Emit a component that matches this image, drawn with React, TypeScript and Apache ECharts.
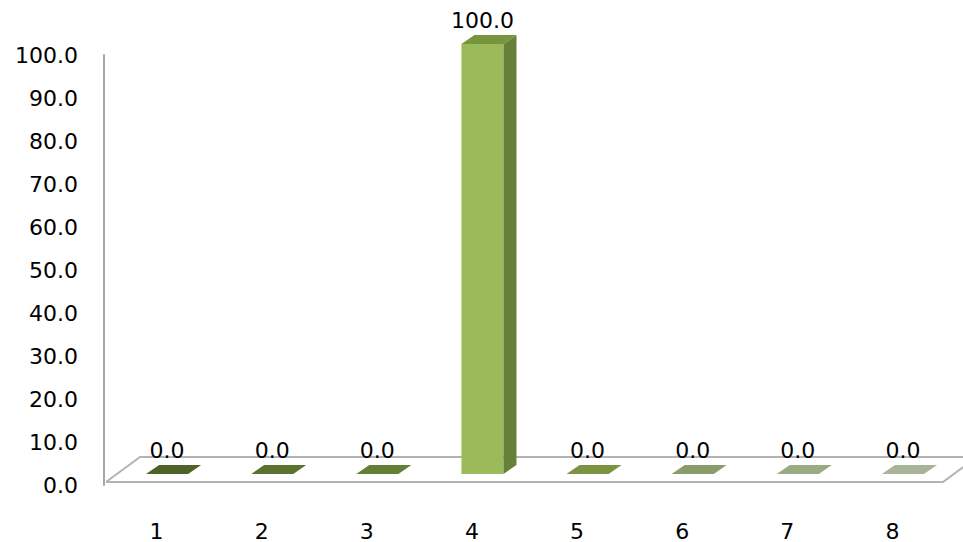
import React, { useEffect, useRef } from "react";
import * as echarts from "echarts";

const categories = ["1", "2", "3", "4", "5", "6", "7", "8"];
const values = [0, 0, 0, 100, 0, 0, 0, 0];
const frontColors = ["#4f6228", "#566d2c", "#617b33", "#9bbb59", "#76903f", "#8a9c6a", "#9aaa84", "#a8b497"];
const sideColors = ["#3f4f20", "#465a24", "#50662a", "#66803a", "#617834", "#738359", "#818f6e", "#8d987e"];
const topColors = ["#4f6228", "#5a722e", "#647f35", "#77953f", "#7a9442", "#8a9c6a", "#9aaa84", "#a8b497"];
const yTicks = { min: 0, max: 100, interval: 10 };

const FONT = "DejaVu Sans";

export default function App() {
  const ref = useRef<HTMLDivElement>(null);
  useEffect(() => {
    if (!ref.current) return;
    const chart = echarts.init(ref.current, undefined, { renderer: "svg" });
    const DX = 13;
    const DY = -9;
    const OFF_Y = 11;
    chart.setOption({
      animation: false,
      grid: { left: 104, right: 18, top: 55, bottom: 48 },
      xAxis: {
        type: "category",
        data: categories,
        axisLine: { show: false },
        axisTick: { show: false },
        axisLabel: { color: "#000", fontSize: 22, fontFamily: FONT, margin: 35 },
        splitLine: { show: false },
      },
      yAxis: {
        type: "value",
        min: yTicks.min,
        max: yTicks.max,
        interval: yTicks.interval,
        axisLine: { show: true, lineStyle: { color: "#a6a6a6", width: 2 } },
        axisTick: { show: false },
        splitLine: { show: false },
        axisLabel: {
          color: "#000",
          fontSize: 22,
          fontFamily: FONT,
          margin: 26,
          formatter: (v: number) => v.toFixed(1),
        },
      },
      series: [
        {
          type: "custom",
          name: "floor",
          silent: true,
          z: 1,
          data: [[0]],
          renderItem: (params: any, api: any) => {
            const cs = params.coordSys;
            const x0 = cs.x + 2;
            const x1 = cs.x + cs.width - 2;
            const yF = cs.y + cs.height - 3;
            const yB = yF - 25;
            const dx = 34;
            const style = { stroke: "#b3b3b3", lineWidth: 2, fill: "none" };
            return {
              type: "group",
              children: [
                { type: "polyline", shape: { points: [[x0, yF], [x1, yF], [x1 + dx, yB]] }, style },
                { type: "polyline", shape: { points: [[x0, yF], [x0 + dx, yB], [x1 + dx, yB]] }, style },
              ],
            };
          },
        },
        {
          type: "custom",
          name: "bars",
          z: 2,
          data: values.map((v, i) => [i, v]),
          renderItem: (params: any, api: any) => {
            const i = api.value(0);
            const v = api.value(1);
            const top = api.coord([i, v]);
            const base = api.coord([i, 0]);
            const band = api.size([1, 0])[0];
            const w = band * 0.4;
            const cx = base[0] + band * 0.1;
            const xl = cx - w / 2;
            const xr = cx + w / 2;
            const yb = base[1] - OFF_Y;
            const yt = top[1] - OFF_Y;
            const idx = params.dataIndex;
            const children: any[] = [];
            if (yb - yt > 0.5) {
              children.push({
                type: "polygon",
                shape: { points: [[xl, yt], [xr, yt], [xr, yb], [xl, yb]] },
                style: { fill: frontColors[idx] },
              });
              children.push({
                type: "polygon",
                shape: { points: [[xr, yt], [xr + DX, yt + DY], [xr + DX, yb + DY], [xr, yb]] },
                style: { fill: sideColors[idx] },
              });
            }
            children.push({
              type: "polygon",
              shape: { points: [[xl, yt], [xl + DX, yt + DY], [xr + DX, yt + DY], [xr, yt]] },
              style: { fill: topColors[idx] },
            });
            children.push({
              type: "text",
              style: {
                text: Number(v).toFixed(1),
                x: cx,
                y: yt + DY - 4,
                align: "center",
                verticalAlign: "bottom",
                fill: "#000",
                fontSize: 22,
                fontFamily: FONT,
              },
            });
            return { type: "group", children };
          },
        },
      ],
    });
    return () => chart.dispose();
  }, []);
  return (
    <div
      ref={ref}
      style={{ position: "absolute", left: 0, top: 0, width: 963, height: 542 }}
    />
  );
}
